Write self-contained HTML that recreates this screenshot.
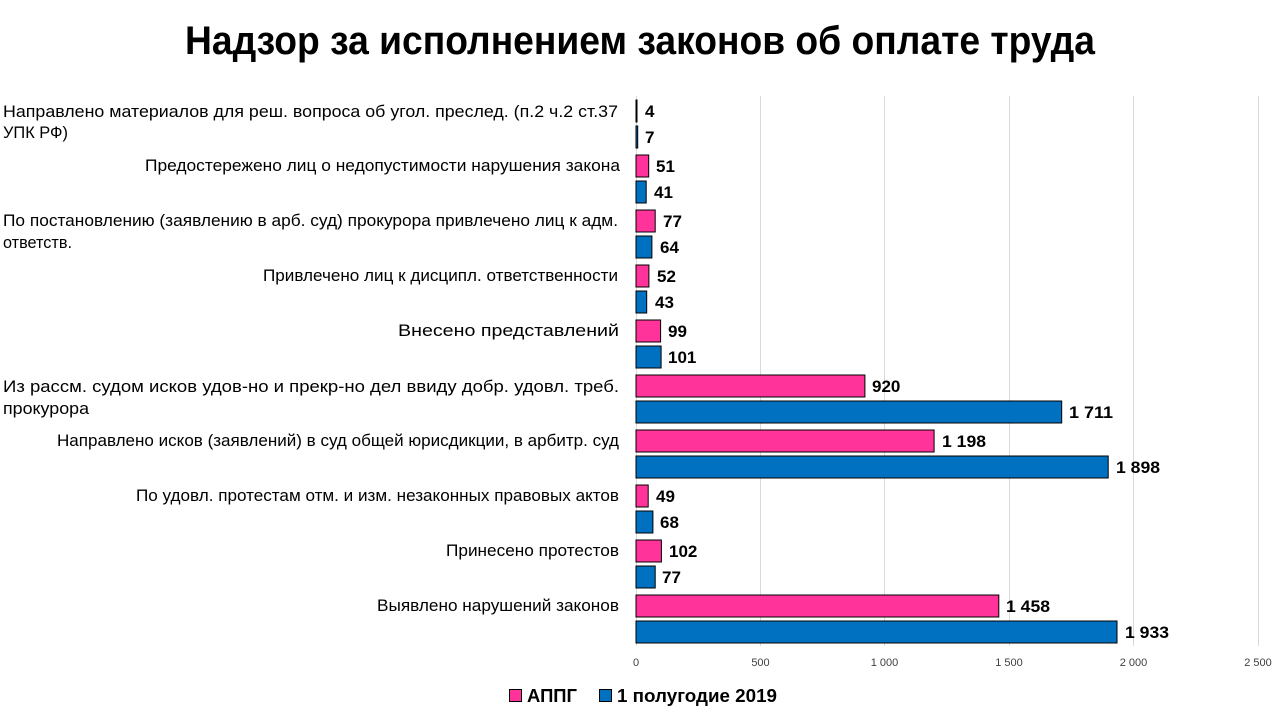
<!DOCTYPE html>
<html><head><meta charset="utf-8"><style>
html,body{margin:0;padding:0;background:#fff;}
svg{display:block;}
text{font-family:"Liberation Sans","Noto Sans CJK SC",sans-serif;}
</style></head><body>
<svg width="1280" height="720" viewBox="0 0 1280 720" xmlns="http://www.w3.org/2000/svg">
<rect width="1280" height="720" fill="#fff"/>
<text x="185" y="54" font-size="40" font-weight="bold" textLength="910" lengthAdjust="spacingAndGlyphs" fill="#000">Надзор за исполнением законов об оплате труда</text>
<g stroke="#d9d9d9" stroke-width="1">
<line x1="636.5" y1="96" x2="636.5" y2="646"/>
<line x1="760.5" y1="96" x2="760.5" y2="646"/>
<line x1="884.5" y1="96" x2="884.5" y2="646"/>
<line x1="1009.5" y1="96" x2="1009.5" y2="646"/>
<line x1="1133.5" y1="96" x2="1133.5" y2="646"/>
<line x1="1258.5" y1="96" x2="1258.5" y2="646"/>
</g>
<g font-size="11" fill="#404040" text-anchor="middle">
<text x="636" y="666">0</text>
<text x="760.5" y="666">500</text>
<text x="884.5" y="666">1 000</text>
<text x="1009" y="666">1 500</text>
<text x="1133.5" y="666">2 000</text>
<text x="1258" y="666">2 500</text>
</g>
<g stroke="#000" stroke-width="1">
<rect x="636" y="100" width="1" height="22" fill="#FF3399"/>
<rect x="636" y="126" width="1.7" height="22" fill="#0070C0"/>
<rect x="636" y="155" width="12.7" height="22" fill="#FF3399"/>
<rect x="636" y="181" width="10.2" height="22" fill="#0070C0"/>
<rect x="636" y="210" width="19.2" height="22" fill="#FF3399"/>
<rect x="636" y="236" width="15.9" height="22" fill="#0070C0"/>
<rect x="636" y="265" width="12.9" height="22" fill="#FF3399"/>
<rect x="636" y="291" width="10.7" height="22" fill="#0070C0"/>
<rect x="636" y="320" width="24.6" height="22" fill="#FF3399"/>
<rect x="636" y="346" width="25.1" height="22" fill="#0070C0"/>
<rect x="636" y="375" width="228.9" height="22" fill="#FF3399"/>
<rect x="636" y="401" width="425.7" height="22" fill="#0070C0"/>
<rect x="636" y="430" width="298.1" height="22" fill="#FF3399"/>
<rect x="636" y="456" width="472.2" height="22" fill="#0070C0"/>
<rect x="636" y="485" width="12.2" height="22" fill="#FF3399"/>
<rect x="636" y="511" width="16.9" height="22" fill="#0070C0"/>
<rect x="636" y="540" width="25.4" height="22" fill="#FF3399"/>
<rect x="636" y="566" width="19.2" height="22" fill="#0070C0"/>
<rect x="636" y="595" width="362.8" height="22" fill="#FF3399"/>
<rect x="636" y="621" width="481" height="22" fill="#0070C0"/>
</g>
<g font-size="17" font-weight="bold" fill="#000">
<text x="645" y="117">4</text>
<text x="645" y="143">7</text>
<text x="656" y="172">51</text>
<text x="654" y="198">41</text>
<text x="663" y="227">77</text>
<text x="660" y="253">64</text>
<text x="657" y="282">52</text>
<text x="655" y="308">43</text>
<text x="668" y="337">99</text>
<text x="668" y="363">101</text>
<text x="872" y="392">920</text>
<text x="1069" y="418" textLength="44" lengthAdjust="spacingAndGlyphs">1 711</text>
<text x="942" y="447" textLength="44" lengthAdjust="spacingAndGlyphs">1 198</text>
<text x="1116" y="473" textLength="44" lengthAdjust="spacingAndGlyphs">1 898</text>
<text x="656" y="502">49</text>
<text x="660" y="528">68</text>
<text x="669" y="557">102</text>
<text x="662" y="583">77</text>
<text x="1006" y="612" textLength="44" lengthAdjust="spacingAndGlyphs">1 458</text>
<text x="1125" y="638" textLength="44" lengthAdjust="spacingAndGlyphs">1 933</text>
</g>
<g font-size="17" fill="#000">
<text x="3" y="117" textLength="615" lengthAdjust="spacingAndGlyphs">Направлено материалов для реш. вопроса об угол. преслед. (п.2 ч.2 ст.37</text>
<text x="3" y="138" textLength="65" lengthAdjust="spacingAndGlyphs">УПК РФ)</text>
<text x="145" y="171" textLength="475" lengthAdjust="spacingAndGlyphs">Предостережено лиц о недопустимости нарушения  закона</text>
<text x="3" y="226" textLength="615" lengthAdjust="spacingAndGlyphs">По постановлению (заявлению в арб. суд) прокурора привлечено лиц к адм.</text>
<text x="3" y="248" textLength="69" lengthAdjust="spacingAndGlyphs">ответств.</text>
<text x="263" y="281" textLength="355" lengthAdjust="spacingAndGlyphs">Привлечено лиц к дисципл. ответственности</text>
<text x="398" y="336" textLength="221" lengthAdjust="spacingAndGlyphs">Внесено представлений</text>
<text x="3" y="392" textLength="616" lengthAdjust="spacingAndGlyphs">Из рассм. судом исков удов-но и прекр-но дел ввиду добр. удовл. треб.</text>
<text x="3" y="414" textLength="86" lengthAdjust="spacingAndGlyphs">прокурора</text>
<text x="57" y="446" textLength="562" lengthAdjust="spacingAndGlyphs">Направлено исков (заявлений) в суд общей юрисдикции, в арбитр. суд</text>
<text x="136" y="501" textLength="483" lengthAdjust="spacingAndGlyphs">По удовл. протестам отм. и изм. незаконных правовых актов</text>
<text x="446" y="556" textLength="173" lengthAdjust="spacingAndGlyphs">Принесено протестов</text>
<text x="377" y="611" textLength="242" lengthAdjust="spacingAndGlyphs">Выявлено нарушений законов</text>
</g>
<rect x="509.5" y="689.5" width="12" height="12" fill="#FF3399" stroke="#000" stroke-width="1"/>
<text x="527" y="702" font-size="18" font-weight="bold" textLength="50" lengthAdjust="spacingAndGlyphs">АППГ</text>
<rect x="599.5" y="689.5" width="12" height="12" fill="#0070C0" stroke="#000" stroke-width="1"/>
<text x="617" y="702" font-size="18" font-weight="bold" textLength="160" lengthAdjust="spacingAndGlyphs">1 полугодие 2019</text>
</svg>
</body></html>
